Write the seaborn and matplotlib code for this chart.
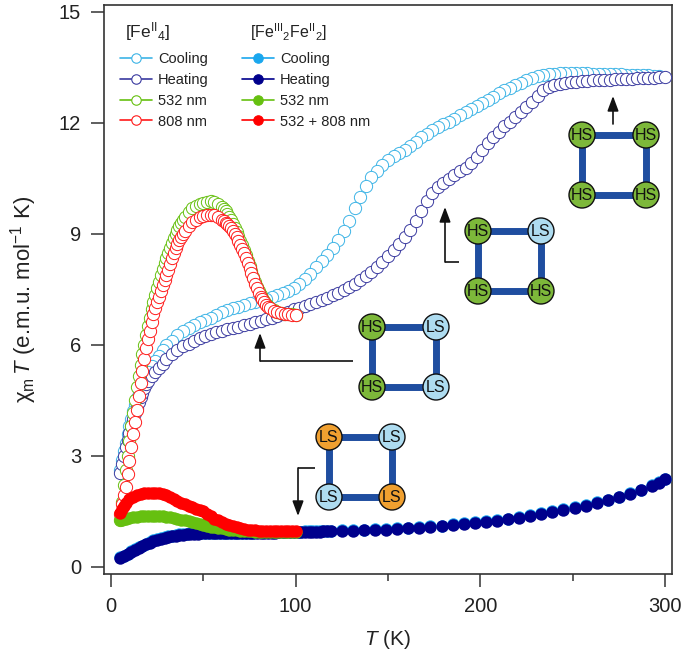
import matplotlib
matplotlib.use('Agg')
import matplotlib.pyplot as plt
import seaborn as sns
from matplotlib.lines import Line2D
from matplotlib.patches import Circle

T_heat = [5, 6, 7, 8, 9, 10, 11, 12, 13, 14, 15, 16, 17, 18, 19, 20, 22, 24, 26, 28, 30, 33, 36, 39, 42, 45, 48, 51,
          54, 57, 60, 63, 66, 69, 72, 75, 78, 81, 84, 87, 90, 93, 96, 99, 102, 105, 108, 111, 114, 117, 120, 123, 126,
          129, 132, 135, 138, 141, 144, 147, 150, 153, 156, 159, 162, 165, 168, 171, 174, 177, 180, 183, 186, 189,
          192, 195, 198, 201, 204, 207, 210, 213, 216, 219, 222, 225, 228, 231, 234, 237, 240, 243, 246, 249, 252,
          255, 258, 261, 264, 267, 270, 273, 276, 279, 282, 285, 288, 291, 294, 297, 300]
chi_heat = [2.53, 2.78, 3.0, 3.22, 3.42, 3.6, 3.8, 3.98, 4.15, 4.3, 4.45, 4.58, 4.7, 4.82, 4.93, 5.03, 5.16, 5.27,
            5.37, 5.47, 5.6, 5.74, 5.85, 5.95, 6.03, 6.11, 6.17, 6.23, 6.29, 6.33, 6.37, 6.41, 6.45, 6.48, 6.52, 6.56,
            6.6, 6.63, 6.68, 6.73, 6.78, 6.84, 6.89, 6.95, 7.0, 7.05, 7.1, 7.15, 7.21, 7.27, 7.33, 7.4, 7.47, 7.55,
            7.64, 7.74, 7.85, 7.97, 8.1, 8.23, 8.39, 8.56, 8.73, 8.92, 9.11, 9.33, 9.6, 9.88, 10.1, 10.25, 10.38,
            10.49, 10.58, 10.68, 10.78, 10.9, 11.08, 11.27, 11.45, 11.62, 11.76, 11.9, 12.03, 12.15, 12.28, 12.41,
            12.57, 12.73, 12.88, 12.97, 13.02, 13.05, 13.08, 13.1, 13.11, 13.12, 13.13, 13.14, 13.15, 13.16, 13.16,
            13.17, 13.18, 13.19, 13.19, 13.2, 13.21, 13.22, 13.22, 13.23, 13.24]

T_cool = [297, 294, 291, 288, 285, 282, 279, 276, 273, 270, 267, 264, 261, 258, 255, 252, 249, 246, 243, 240, 237, 234,
          231, 228, 225, 222, 219, 216, 213, 210, 207, 204, 201, 198, 195, 192, 189, 186, 183, 180, 177, 174, 171,
          168, 165, 162, 159, 156, 153, 150, 147, 144, 141, 138, 135, 132, 129, 126, 123, 120, 117, 114, 111, 108,
          105, 102, 99, 96, 93, 90, 87, 84, 81, 78, 75, 72, 69, 66, 63, 60, 57, 54, 51, 48, 45, 42, 39, 36, 33, 30,
          28, 26, 24, 22, 20, 19, 18, 17, 16, 15, 14, 13, 12, 11, 10, 9, 8, 7, 6, 5]
chi_cool = [13.27, 13.27, 13.28, 13.29, 13.3, 13.3, 13.3, 13.31, 13.31, 13.31, 13.32, 13.32, 13.32, 13.33, 13.33,
            13.33, 13.33, 13.33, 13.33, 13.32, 13.31, 13.29, 13.25, 13.2, 13.14, 13.08, 13.02, 12.95, 12.87, 12.79,
            12.7, 12.62, 12.53, 12.45, 12.37, 12.28, 12.2, 12.11, 12.03, 11.96, 11.88, 11.79, 11.7, 11.6, 11.49,
            11.37, 11.27, 11.18, 11.09, 10.98, 10.85, 10.7, 10.52, 10.3, 10.0, 9.7, 9.35, 9.07, 8.84, 8.62, 8.43,
            8.26, 8.09, 7.92, 7.77, 7.63, 7.52, 7.45, 7.39, 7.33, 7.28, 7.24, 7.2, 7.16, 7.12, 7.08, 7.03, 6.99, 6.94,
            6.87, 6.79, 6.72, 6.66, 6.6, 6.52, 6.45, 6.36, 6.25, 6.1, 6.0, 5.85, 5.7, 5.57, 5.42, 5.25, 5.15, 5.05,
            4.94, 4.82, 4.69, 4.55, 4.38, 4.2, 4.0, 3.8, 3.58, 3.35, 3.12, 2.88, 2.62]

T_light = [5, 6, 7, 8, 9, 10, 11, 12, 13, 14, 15, 16, 17, 18, 19, 20, 21, 22, 23, 24, 25, 26, 27, 28, 29, 30, 31, 32,
           33, 34, 35, 36, 37, 38, 39, 40, 42, 44, 46, 48, 50, 52, 54, 56, 58, 60, 61, 62, 63, 64, 65, 66, 67, 68, 69,
           70, 71, 72, 73, 74, 75, 76, 77, 78, 79, 80, 81, 82, 83, 84, 85, 86, 88, 90, 92, 94, 96, 98, 100]
chi_532 = [1.25, 1.75, 2.2, 2.6, 3.0, 3.4, 3.8, 4.15, 4.5, 4.85, 5.15, 5.45, 5.75, 6.0, 6.25, 6.5, 6.73, 6.95, 7.15,
           7.35, 7.53, 7.7, 7.88, 8.05, 8.2, 8.35, 8.49, 8.62, 8.75, 8.88, 9.0, 9.1, 9.2, 9.3, 9.38, 9.45, 9.58, 9.68,
           9.76, 9.81, 9.84, 9.86, 9.87, 9.86, 9.8, 9.72, 9.66, 9.6, 9.53, 9.45, 9.36, 9.27, 9.16, 9.05, 8.93, 8.8,
           8.68, 8.55, 8.41, 8.27, 8.12, 7.98, 7.84, 7.7, 7.57, 7.45, 7.35, 7.25, 7.17, 7.1, 7.05, 7.0, 6.93, 6.89,
           6.86, 6.84, 6.83, 6.82, 6.81]
chi_808 = [1.42, 1.7, 1.93, 2.15, 2.5, 2.86, 3.22, 3.58, 3.9, 4.23, 4.6, 4.95, 5.3, 5.6, 5.9, 6.15, 6.38, 6.6, 6.82,
           7.0, 7.15, 7.3, 7.46, 7.6, 7.75, 7.88, 8.03, 8.18, 8.33, 8.47, 8.6, 8.72, 8.82, 8.92, 9.0, 9.08, 9.21, 9.31,
           9.38, 9.44, 9.48, 9.5, 9.51, 9.5, 9.45, 9.38, 9.34, 9.3, 9.25, 9.2, 9.14, 9.07, 8.99, 8.9, 8.8, 8.7, 8.59,
           8.47, 8.34, 8.2, 8.07, 7.93, 7.79, 7.65, 7.52, 7.4, 7.3, 7.22, 7.15, 7.08, 7.03, 6.98, 6.92, 6.88, 6.85,
           6.83, 6.82, 6.81, 6.8]

T_mixed = [5, 7, 9, 11, 13, 15, 17, 19, 21, 23, 25, 27, 29, 31, 33, 35, 37, 39, 41, 43, 45, 47, 49, 51, 53, 55, 57,
           59, 61, 63, 65, 67, 69, 71, 73, 75, 77, 79, 81, 83, 85, 87, 89, 91, 93, 95, 97, 99, 101, 103, 105, 107,
           109, 111, 113, 115, 117, 119, 125, 131, 137, 143, 149, 155, 161, 167, 173, 179, 185, 191, 197, 203, 209,
           215, 221, 227, 233, 239, 245, 251, 257, 263, 269, 275, 281, 287, 293, 297, 300]
chi_mixed_heat = [0.22, 0.28, 0.33, 0.39, 0.45, 0.5, 0.55, 0.6, 0.65, 0.69, 0.72, 0.75, 0.78, 0.8, 0.82, 0.84, 0.85,
                  0.86, 0.87, 0.88, 0.89, 0.89, 0.9, 0.9, 0.9, 0.9, 0.9, 0.9, 0.9, 0.9, 0.9, 0.91, 0.91, 0.91, 0.91,
                  0.91, 0.91, 0.92, 0.92, 0.92, 0.92, 0.92, 0.92, 0.93, 0.93, 0.93, 0.93, 0.93, 0.93, 0.93, 0.93, 0.94,
                  0.94, 0.94, 0.94, 0.95, 0.95, 0.95, 0.96, 0.97, 0.98, 0.99, 1.0, 1.01, 1.03, 1.05, 1.07, 1.09, 1.12,
                  1.15, 1.18, 1.21, 1.24, 1.28, 1.32, 1.37, 1.42, 1.47, 1.53, 1.59, 1.65, 1.72, 1.79, 1.87, 1.96, 2.06,
                  2.18, 2.27, 2.37]
chi_mixed_cool = [0.25, 0.3, 0.35, 0.41, 0.47, 0.52, 0.57, 0.62, 0.67, 0.71, 0.74, 0.77, 0.8, 0.82, 0.84, 0.86, 0.87,
                  0.88, 0.89, 0.9, 0.9, 0.9, 0.91, 0.91, 0.91, 0.91, 0.91, 0.91, 0.91, 0.91, 0.91, 0.92, 0.92, 0.92,
                  0.92, 0.92, 0.92, 0.93, 0.93, 0.93, 0.93, 0.93, 0.93, 0.94, 0.94, 0.94, 0.94, 0.94, 0.94, 0.94, 0.95,
                  0.95, 0.95, 0.96, 0.96, 0.96, 0.97, 0.97, 0.98, 0.99, 1.0, 1.01, 1.02, 1.03, 1.05, 1.07, 1.09, 1.11,
                  1.14, 1.17, 1.2, 1.23, 1.26, 1.3, 1.34, 1.39, 1.44, 1.49, 1.55, 1.61, 1.67, 1.74, 1.81, 1.89, 1.98,
                  2.08, 2.2, 2.29, 2.38]

T_mixed_light = [5, 6, 7, 8, 10, 12, 14, 16, 18, 20, 22, 24, 26, 28, 30, 32, 34, 36, 38, 40, 42, 44, 46, 48, 50, 52,
                 54, 56, 58, 60, 62, 64, 66, 68, 70, 72, 74, 76, 78, 80, 82, 84, 86, 88, 90, 92, 94, 96, 98, 100]
chi_mixed_532 = [1.25, 1.27, 1.29, 1.3, 1.32, 1.33, 1.35, 1.36, 1.37, 1.37, 1.38, 1.38, 1.37, 1.36, 1.35, 1.33, 1.31,
                 1.29, 1.27, 1.25, 1.22, 1.2, 1.17, 1.15, 1.12, 1.1, 1.08, 1.06, 1.04, 1.03, 1.01, 1.0, 0.99, 0.98,
                 0.97, 0.96, 0.95, 0.95, 0.94, 0.94, 0.94, 0.94, 0.93, 0.93, 0.93, 0.93, 0.93, 0.93, 0.93, 0.93]
chi_mixed_808 = [1.45, 1.55, 1.65, 1.72, 1.82, 1.88, 1.93, 1.96, 1.98, 2.0, 2.0, 2.0, 1.99, 1.97, 1.93, 1.88, 1.83,
                 1.78, 1.73, 1.68, 1.64, 1.6, 1.56, 1.53, 1.49, 1.43, 1.36, 1.3, 1.25, 1.2, 1.16, 1.12, 1.09, 1.06,
                 1.03, 1.01, 1.0, 0.99, 0.98, 0.97, 0.97, 0.96, 0.96, 0.96, 0.96, 0.96, 0.96, 0.96, 0.96, 0.96]

x_ticks = [0, 100, 200, 300]
x_minor_ticks = [50, 150, 250]
y_ticks = [0, 3, 6, 9, 12, 15]

COOL = '#3db4e6'
HEAT = '#3a3aa0'
GREEN = '#66c010'
RED = '#ff1a1a'
COOL_SOLID = '#1aa7ee'
HEAT_SOLID = '#00008c'
RED_SOLID = '#ff0000'
BAR = '#1f4ea0'
DARK = '#333333'

NODE_COLORS = {'HS': '#7db83a', 'LS': '#aedcf0', 'LSo': '#f0a030'}

sns.set_theme(style='ticks')
plt.rcParams['font.family'] = ['Liberation Sans', 'DejaVu Sans']
plt.rcParams['mathtext.fontset'] = 'custom'
plt.rcParams['mathtext.rm'] = 'Liberation Sans'
plt.rcParams['mathtext.it'] = 'Liberation Sans:italic'
plt.rcParams['mathtext.default'] = 'rm'

W, H = 685, 658
fig = plt.figure(figsize=(W / 100, H / 100), dpi=100)
ax = fig.add_axes([104 / W, 1 - 574 / H, (672 - 104) / W, (574 - 5) / H])


def open_series(x, y, color, z):
    sns.scatterplot(x=x, y=y, ax=ax, s=78, marker='o', facecolor='white', edgecolor=color,
                    linewidth=0.7, zorder=z, clip_on=False)


def solid_series(x, y, color, z):
    sns.scatterplot(x=x, y=y, ax=ax, s=80, marker='o', color=color, linewidth=0, zorder=z, clip_on=False)


open_series(T_cool, chi_cool, COOL, 2)
open_series(T_heat, chi_heat, HEAT, 3)
open_series(T_light, chi_532, GREEN, 4)
open_series(T_light, chi_808, RED, 5)
solid_series(T_mixed, chi_mixed_cool, COOL_SOLID, 6)
solid_series(T_mixed, chi_mixed_heat, HEAT_SOLID, 7)
solid_series(T_mixed_light, chi_mixed_532, GREEN, 8)
solid_series(T_mixed_light, chi_mixed_808, RED_SOLID, 9)

ax.set_xlim(-3.8, 303.8)
ax.set_ylim(-0.2, 15.18)
ax.set_xticks(x_ticks)
ax.set_xticks(x_minor_ticks, minor=True)
ax.set_yticks(y_ticks)
ax.tick_params(axis='both', which='major', length=9.5, width=1.1, color=DARK, labelsize=14.5, labelcolor='#222222', pad=7)
ax.tick_params(axis='x', which='minor', length=5, width=1.1, color=DARK)
for spine in ax.spines.values():
    spine.set_visible(True)
    spine.set_linewidth(1.2)
    spine.set_color(DARK)
ax.set_xlabel(r'$\mathit{T}$ (K)', fontsize=15, color='#222222', labelpad=9)
ax.set_ylabel(r'$\chi_{m}\,\mathit{T}$ (e.m.u. mol$^{-1}$ K)', fontsize=16, color='#222222', labelpad=14, y=0.483)


def make_handles(colors, filled):
    handles = []
    for c in colors:
        handles.append(Line2D([], [], color=c, lw=1.2, marker='o', ms=6.8, mew=0.8, mec=c,
                              mfc=c if filled else 'white'))
    return handles


labels_a = ['Cooling', 'Heating', '532 nm', '808 nm']
labels_b = ['Cooling', 'Heating', '532 nm', '532 + 808 nm']
opts = dict(frameon=False, fontsize=10.5, labelspacing=0.47, handlelength=2.2, handletextpad=0.4,
            borderpad=0, borderaxespad=0, loc='upper left', labelcolor='#222222')
leg_a = ax.legend(make_handles([COOL, HEAT, GREEN, RED], False), labels_a,
                  bbox_to_anchor=((120 - 104) / 568, (574 - 52) / 569), **opts)
ax.add_artist(leg_a)
ax.legend(make_handles([COOL_SOLID, HEAT_SOLID, GREEN, RED_SOLID], True), labels_b,
          bbox_to_anchor=((242 - 104) / 568, (574 - 52) / 569), **opts)

# overlay in pixel coordinates for the cluster sketches
over = fig.add_axes([0, 0, 1, 1], facecolor='none')
over.set_xlim(0, W)
over.set_ylim(H, 0)
over.axis('off')
over.set_zorder(10)

over.text(125, 32, r'[Fe$^{II}$$_{4}$]', fontsize=12.5, color='#222222', va='center')
over.text(250, 32, r'[Fe$^{III}$$_{2}$Fe$^{II}$$_{2}$]', fontsize=11.5, color='#222222', va='center')


def cluster(x0, x1, y0, y1, kinds):
    corners = [(x0, y0), (x1, y0), (x0, y1), (x1, y1)]
    for a, b in [(0, 1), (2, 3), (0, 2), (1, 3)]:
        over.plot([corners[a][0], corners[b][0]], [corners[a][1], corners[b][1]],
                  color=BAR, lw=5, solid_capstyle='butt', zorder=1)
    for (cx, cy), kind in zip(corners, kinds):
        over.add_patch(Circle((cx, cy), 13, facecolor=NODE_COLORS[kind], edgecolor='#111111', lw=1.0, zorder=2))
        over.text(cx, cy + 0.5, kind[:2], fontsize=11.5, ha='center', va='center', color='#111111', zorder=3)


def elbow_arrow(points):
    xs = [p[0] for p in points]
    ys = [p[1] for p in points]
    over.plot(xs[:-1], ys[:-1], color='#111111', lw=1.2, solid_capstyle='butt')
    over.annotate('', xy=points[-1], xytext=points[-2],
                  arrowprops=dict(arrowstyle='-|>,head_width=0.28,head_length=0.75', color='#111111', lw=1.2,
                                  shrinkA=0, shrinkB=0))


cluster(582, 646, 135, 195, ['HS', 'HS', 'HS', 'HS'])
cluster(478, 541, 231, 291, ['HS', 'LS', 'HS', 'HS'])
cluster(372, 436, 327, 387, ['HS', 'LS', 'HS', 'LS'])
cluster(329, 392, 437, 497, ['LSo', 'LS', 'LS', 'LSo'])

elbow_arrow([(613, 124), (613, 96)])
elbow_arrow([(459, 262), (445, 262), (445, 207)])
elbow_arrow([(353, 361), (260, 361), (260, 333)])
elbow_arrow([(315, 468), (298, 468), (298, 516)])

fig.savefig('out.png', dpi=100)
